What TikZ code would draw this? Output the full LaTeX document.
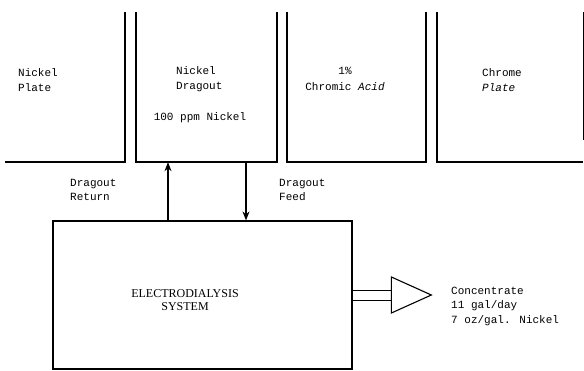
\documentclass[tikz,border=0pt]{standalone}
\usepackage{fontspec}
\setmainfont{Liberation Mono}
\newfontfamily\edfont{Liberation Serif}
\usetikzlibrary{arrows.meta,positioning,shapes.geometric}
\tikzset{
  tankBox/.style={inner sep=0pt, minimum width=#1, minimum height=150pt},
  wallLine/.style={line width=1.5pt},
  edBox/.style={draw, line width=1.2pt, inner sep=0pt, minimum width=299pt, minimum height=148pt},
  edLabel/.style={font=\edfont\fontsize{12}{13.5}\selectfont, align=center, inner sep=0pt},
  flowArrow/.style={-{Stealth[length=9pt,width=7pt]}, line width=1.1pt},
  pipeLine/.style={line width=1.1pt},
  outTri/.style={draw, line width=1.1pt, isosceles triangle, isosceles triangle stretches, inner sep=0pt, minimum width=36pt, minimum height=40pt},
  tankLabel/.style={font=\fontsize{11}{15.5}\selectfont, align=left, inner sep=0pt},
  flowLabel/.style={font=\fontsize{11}{14.5}\selectfont, align=left, inner sep=0pt, anchor=west}
}
\begin{document}
\begin{tikzpicture}[x=1pt,y=-1pt]
  \useasboundingbox (0,0) rectangle (584,370);
  % tanks
  \node[tankBox=120pt] (plate) at (65,87) {};
  \node[tankBox=141pt] (drag) at (206.5,87) {};
  \node[tankBox=139pt] (acid) at (356.5,87) {};
  \node[tankBox=146pt] (chrome) at (510,87) {};
  \draw[wallLine] (plate.south west) -- (plate.south east) -- (plate.north east);
  \draw[wallLine] (drag.north west) |- (drag.south east) -- (drag.north east);
  \draw[wallLine] (acid.north west) |- (acid.south east) -- (acid.north east);
  \draw[wallLine] (chrome.north west) |- (chrome.south east);
  \draw[line width=1.2pt] (chrome.north east) -- ++(0,128);
  \node[tankLabel, anchor=west] at (18,80) {Nickel\\Plate};
  \node[tankLabel, anchor=west] at (176,79) {Nickel\\Dragout};
  \node[tankLabel] at (200,118) {100 ppm Nickel};
  \node[tankLabel, align=center] at (345,79) {1\%\\Chromic \textit{Acid}};
  \node[tankLabel, anchor=west] at (482,80) {Chrome\\\textit{Plate}};
  % electrodialysis unit
  \node[edBox] (ed) at (202.5,295) {};
  \node[edLabel] (edtext) at (185,300) {ELECTRODIALYSIS\\SYSTEM};
  \coordinate (retx) at (168,0);
  \coordinate (feedx) at (246,0);
  \draw[flowArrow] (ed.north -| retx) -- (drag.south -| retx);
  \draw[flowArrow] (drag.south -| feedx) -- (ed.north -| feedx);
  \node[flowLabel] at (70,190) {Dragout\\Return};
  \node[flowLabel] at (279,190) {Dragout\\Feed};
  % concentrate outlet
  \node[outTri] (tri) at (403,295) {};
  \coordinate (pipeA) at (0,290.5);
  \coordinate (pipeB) at (0,300.5);
  \draw[pipeLine] (ed.east |- pipeA) -- (tri.west |- pipeA);
  \draw[pipeLine] (ed.east |- pipeB) -- (tri.west |- pipeB);
  \node[flowLabel] (conc) at (451,306) {Concentrate\\11 gal/day\\7 oz/gal. Nickel};
\end{tikzpicture}
\end{document}
